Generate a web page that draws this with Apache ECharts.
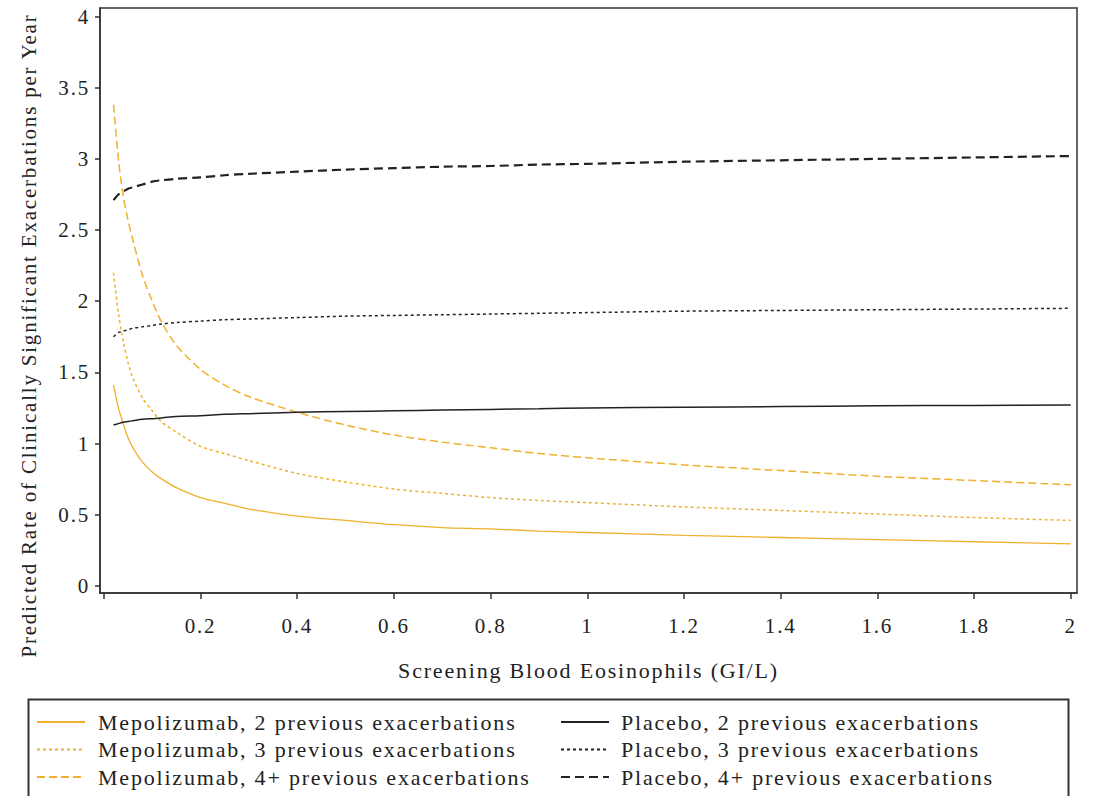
<!DOCTYPE html>
<html>
<head>
<meta charset="utf-8">
<script src="https://cdn.jsdelivr.net/npm/echarts@6/dist/echarts.min.js"></script>
<style>
html,body{margin:0;padding:0;background:#fff;}
#c{width:1099px;height:796px;}
#c text{letter-spacing:1.8px;}
</style>
</head>
<body>
<div id="c"></div>
<script>
// Data
var xValues = [0.02,0.03,0.04,0.05,0.06,0.08,0.1,0.12,0.15,0.2,0.25,0.3,0.4,0.5,0.6,0.7,0.8,0.9,1.0,1.2,1.4,1.6,1.8,2.0];
var mepo2 = [1.41,1.25,1.14,1.04,0.97,0.87,0.80,0.75,0.69,0.62,0.58,0.54,0.49,0.46,0.43,0.41,0.40,0.385,0.375,0.355,0.34,0.325,0.31,0.295];
var mepo3 = [2.20,1.92,1.72,1.57,1.46,1.32,1.23,1.15,1.08,0.98,0.93,0.88,0.79,0.73,0.68,0.65,0.62,0.60,0.585,0.555,0.53,0.505,0.48,0.46];
var mepo4 = [3.38,3.00,2.74,2.57,2.43,2.18,2.00,1.85,1.69,1.52,1.41,1.33,1.22,1.13,1.06,1.01,0.97,0.93,0.90,0.85,0.81,0.77,0.74,0.71];
var plac2 = [1.13,1.14,1.15,1.155,1.16,1.17,1.175,1.18,1.19,1.195,1.205,1.21,1.22,1.225,1.23,1.235,1.24,1.245,1.25,1.255,1.26,1.265,1.268,1.27];
var plac3 = [1.75,1.78,1.79,1.80,1.81,1.82,1.83,1.84,1.85,1.86,1.87,1.875,1.885,1.895,1.90,1.905,1.91,1.915,1.92,1.93,1.935,1.94,1.945,1.95];
var plac4 = [2.71,2.75,2.77,2.79,2.80,2.82,2.84,2.85,2.86,2.87,2.885,2.895,2.91,2.925,2.935,2.945,2.95,2.96,2.965,2.98,2.99,3.00,3.01,3.02];
var yTicks = [0,0.5,1,1.5,2,2.5,3,3.5,4];
var xTicks = [0,0.2,0.4,0.6,0.8,1,1.2,1.4,1.6,1.8,2];
var seriesNames = ['Mepolizumab, 2 previous exacerbations','Mepolizumab, 3 previous exacerbations','Mepolizumab, 4+ previous exacerbations','Placebo, 2 previous exacerbations','Placebo, 3 previous exacerbations','Placebo, 4+ previous exacerbations'];

function pairs(ys){ return xValues.map(function(x,i){ return [x, ys[i]]; }); }

var ORANGE = '#EFB12E';
var FONT = 'Liberation Serif';
var TXT = '#222';

function mk(name, ys, color, type, width){
  return {
    name: name, type: 'line', data: pairs(ys), smooth: 0.3, symbol: 'none', showSymbol: false,
    lineStyle: {color: color, type: type, width: width},
    itemStyle: {color: color}, emphasis: {disabled: true}, animation: false
  };
}

var legendCommon = {orient: 'vertical', top: 711, itemWidth: 48, itemHeight: 14, itemGap: 5.5, padding: 0,
  selectedMode: false, itemStyle: {opacity: 0}};

var chart = echarts.init(document.getElementById('c'), null, {renderer: 'svg'});
chart.setOption({
  animation: false,
  backgroundColor: '#fff',
  textStyle: {fontFamily: FONT},
  grid: {left: 100, right: 22, top: 8, bottom: 203, show: true, borderColor: '#333', borderWidth: 1.5, backgroundColor: 'transparent'},
  xAxis: {
    type: 'value', min: -0.008, max: 2.013,
    name: 'Screening Blood Eosinophils (GI/L)', nameLocation: 'middle', nameGap: 66,
    nameTextStyle: {fontFamily: FONT, fontSize: 22, color: TXT},
    axisLine: {onZero: false, lineStyle: {color: '#333', width: 1.5}},
    axisTick: {show: true, length: 6, customValues: xTicks, lineStyle: {color: '#333', width: 1.5}},
    axisLabel: {customValues: xTicks, margin: 22, fontFamily: FONT, fontSize: 21, color: TXT,
      formatter: function(v){ return v === 0 ? '' : String(v); }},
    splitLine: {show: false}
  },
  yAxis: {
    type: 'value', min: -0.05, max: 4.06,
    name: 'Predicted Rate of Clinically Significant Exacerbations per Year', nameLocation: 'middle', nameGap: 61,
    nameTextStyle: {fontFamily: FONT, fontSize: 21, color: TXT, padding: [0, 70, 0, 0]},
    axisLine: {onZero: false, lineStyle: {color: '#333', width: 1.5}},
    axisTick: {show: true, length: 5, customValues: yTicks, lineStyle: {color: '#333', width: 1.5}},
    axisLabel: {customValues: yTicks, margin: 10, fontFamily: FONT, fontSize: 21, color: TXT,
      formatter: function(v){ return String(v); }},
    splitLine: {show: false}
  },
  legend: [
    Object.assign({}, legendCommon, {data: seriesNames.slice(0,3), left: 36,
      textStyle: {fontFamily: FONT, fontSize: 22, lineHeight: 22, color: TXT, padding: [0,0,0,8]}}),
    Object.assign({}, legendCommon, {data: seriesNames.slice(3,6), left: 560,
      textStyle: {fontFamily: FONT, fontSize: 22, lineHeight: 22, color: TXT, padding: [0,0,0,7]}})
  ],
  graphic: [
    {type: 'rect', left: 26, top: 697, shape: {width: 1040, height: 120}, style: {fill: 'none', stroke: '#333', lineWidth: 2}, silent: true}
  ],
  series: [
    mk(seriesNames[0], mepo2, ORANGE, 'solid', 1.3),
    mk(seriesNames[1], mepo3, ORANGE, [3,3], 1.5),
    mk(seriesNames[2], mepo4, ORANGE, [8,4], 1.5),
    mk(seriesNames[3], plac2, '#222', 'solid', 1.5),
    mk(seriesNames[4], plac3, '#222', [3,3], 1.5),
    mk(seriesNames[5], plac4, '#222', [9,5], 2.2)
  ]
});
</script>
</body>
</html>
